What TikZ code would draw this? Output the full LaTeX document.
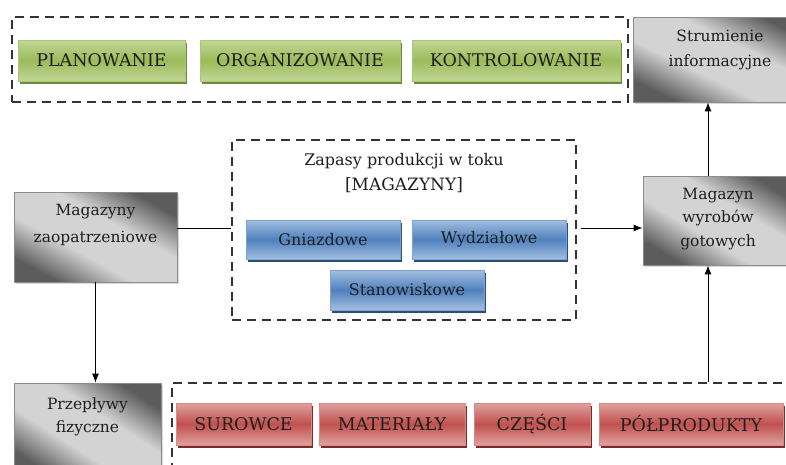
\documentclass[tikz,border=0pt]{standalone}
\usepackage{fontspec}
\setmainfont{DejaVu Serif}
\usetikzlibrary{arrows.meta,shadows}
\definecolor{txt}{HTML}{1E1E1E}
\definecolor{dashc}{HTML}{333333}
\definecolor{gdark}{HTML}{5C5C5C}
\definecolor{glight}{HTML}{D3D3D3}
\definecolor{gborder}{HTML}{8C8C8C}
\definecolor{grnA}{HTML}{C2D797}
\definecolor{grnB}{HTML}{9BBB59}
\definecolor{grnS}{HTML}{71893F}
\definecolor{grnD}{HTML}{ABC77A}
\definecolor{bluA}{HTML}{A3BEE0}
\definecolor{bluB}{HTML}{4F81BD}
\definecolor{bluS}{HTML}{2C4D75}
\definecolor{bluD}{HTML}{7FA3D3}
\definecolor{redA}{HTML}{E0A2A0}
\definecolor{redB}{HTML}{C0504D}
\definecolor{redS}{HTML}{772C2A}
\definecolor{redD}{HTML}{D98886}
\pgfdeclarehorizontalshading{grayshade}{100bp}{color(0bp)=(gdark); color(25bp)=(gdark); color(41bp)=(glight); color(59bp)=(glight); color(75bp)=(gdark); color(100bp)=(gdark)}
\tikzset{
  dashbox/.style={draw=dashc, line width=2.6pt, dash pattern=on 9pt off 6pt, inner sep=0pt},
  capfont/.style={font=\fontsize{17.5}{20}\selectfont, text=txt},
  lowfont/.style={font=\fontsize{16}{20}\selectfont, text=txt},
  grnbox/.style={capfont, draw=grnD, line width=0.8pt, top color=grnA, bottom color=grnA, middle color=grnB,
    drop shadow={shadow xshift=2pt, shadow yshift=-3pt, fill=grnS, opacity=1}, minimum height=41pt, inner sep=0pt},
  blubox/.style={lowfont, draw=bluD, line width=0.8pt, top color=bluA, bottom color=bluA, middle color=bluB,
    drop shadow={shadow xshift=2pt, shadow yshift=-3pt, fill=bluS, opacity=1}, minimum width=154pt, inner sep=0pt},
  redbox/.style={capfont, draw=redD, line width=0.8pt, top color=redA, bottom color=redA, middle color=redB,
    drop shadow={shadow xshift=2pt, shadow yshift=-3pt, fill=redS, opacity=1}, minimum height=42pt, inner sep=0pt},
  graybox/.style={draw=gborder, line width=0.8pt, shading=grayshade, shading angle=60,
    drop shadow={shadow xshift=2pt, shadow yshift=-2pt, fill=black, opacity=0.15}, inner sep=0pt},
  graytext/.style={anchor=north, align=center, inner sep=0pt, text=txt},
  conn/.style={line width=0.9pt, draw=black},
  arr/.style={conn, -{Latex[length=9pt,width=7pt]}},
}
\begin{document}
\begin{tikzpicture}[x=1pt,y=-1pt]
\useasboundingbox (0,0) rectangle (786,464);
\clip (0,0) rectangle (786,464);
\fill[white] (0,0) rectangle (786,464);
% top group
\node[dashbox, minimum width=616pt, minimum height=85pt] (top) at (320,59.5) {};
\node[grnbox, minimum width=167pt] (pl) at (101.5,60.5) {PLANOWANIE};
\node[grnbox, minimum width=200pt] (org) at (300,60.5) {ORGANIZOWANIE};
\node[grnbox, minimum width=208pt] (kon) at (516,60.5) {KONTROLOWANIE};
% gray boxes
\node[graybox, minimum width=174pt, minimum height=85pt, shading angle=64] (str) at (720,59.5) {};
\node[graytext, font=\fontsize{15.5}{25}\selectfont] at ([yshift=-13pt]str.north) {Strumienie\\informacyjne};
\node[graybox, minimum width=150pt, minimum height=89pt, shading angle=59] (mwg) at (718,220.5) {};
\node[graytext, font=\fontsize{15.5}{23.3}\selectfont] at ([yshift=-12.3pt]mwg.north) {Magazyn\\wyrobów\\gotowych};
\node[graybox, minimum width=163pt, minimum height=90pt, shading angle=61] (mz) at (95.5,237) {};
\node[graytext, font=\fontsize{15.5}{26.5}\selectfont] at ([yshift=-12.8pt]mz.north) {Magazyny\\zaopatrzeniowe};
\node[graybox, minimum width=147pt, minimum height=95pt, shading angle=57] (pf) at (87.5,430.5) {};
\node[graytext, font=\fontsize{15.5}{23.3}\selectfont] at ([yshift=-14.8pt]pf.north) {Przepływy\\fizyczne};
% middle group
\node[dashbox, minimum width=344pt, minimum height=180pt] (mid) at (404,230) {};
\node[graytext, font=\fontsize{16}{25}\selectfont] at ([yshift=-14.5pt]mid.north) {Zapasy produkcji w toku\\{\fontsize{17}{25}\selectfont[MAGAZYNY]}};
\node[blubox, minimum height=39pt] (gn) at (323,239.5) {Gniazdowe};
\node[blubox, minimum height=39pt] (wy) at (489,239.5) {Wydziałowe};
\node[blubox, minimum height=40pt] (st) at (407,290) {Stanowiskowe};
% bottom group
\node[dashbox, minimum width=630pt, minimum height=100pt] (bot) at (487,433) {};
\node[redbox, minimum width=135pt] (sur) at (243.5,424) {SUROWCE};
\node[redbox, minimum width=146pt] (mat) at (392,424) {MATERIAŁY};
\node[redbox, minimum width=116pt] (cz) at (532,424) {CZĘŚCI};
\node[redbox, minimum width=184pt] (pol) at (691,424) {PÓŁPRODUKTY};
% connectors
\draw[conn] ([yshift=2pt]mz.east |- mid.west) -- ([yshift=2pt]mid.west);
\draw[arr] ([xshift=4pt,yshift=2pt]mid.east) -- ([yshift=2pt]mid.east -| mwg.west);
\draw[arr] ([xshift=-10pt]mwg.north) -- ([xshift=-10pt]mwg.north |- str.south);
\draw[arr] ([xshift=-10pt]mwg.south |- bot.north) -- ([xshift=-10pt]mwg.south);
\draw[arr] (mz.south) -- (mz.south |- pf.north);
\end{tikzpicture}
\end{document}
